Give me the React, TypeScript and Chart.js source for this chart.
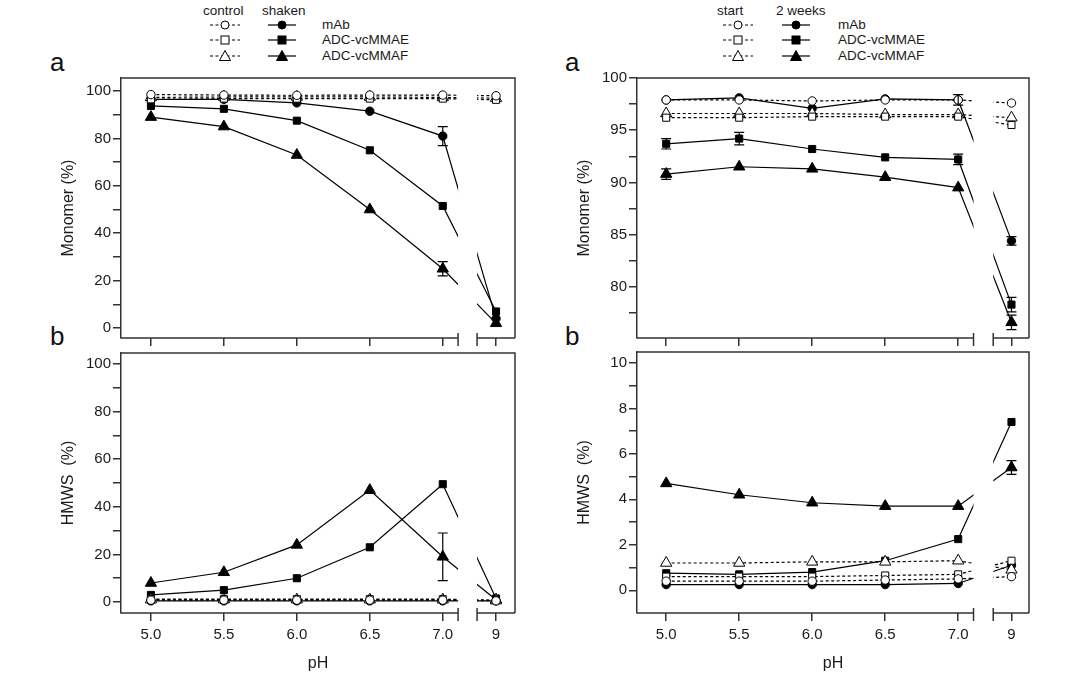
import React, { useEffect, useRef } from "react";
import { Chart, registerables } from "chart.js";
Chart.register(...registerables);

const PH = [5.0, 5.5, 6.0, 6.5, 7.0, 9];
const X_LABELS = ["5.0", "5.5", "6.0", "6.5", "7.0", "9"];
const SERIES = ["mAb", "ADC-vcMMAE", "ADC-vcMMAF"];

// Left a: Monomer, control vs shaken
const LA_CTRL_MAB = [98.5, 98.3, 98.2, 98.3, 98.3, 98.0];
const LA_CTRL_MMAE = [96.5, 96.8, 96.8, 96.8, 96.8, 96.3];
const LA_CTRL_MMAF = [97.3, 97.5, 97.5, 97.5, 97.3, 97.0];
const LA_SH_MAB = [96.5, 96.5, 95.0, 91.5, 81.0, 4.0];
const LA_SH_MMAE = [93.7, 92.5, 87.5, 75.0, 51.5, 7.0];
const LA_SH_MMAF = [89.0, 85.0, 73.0, 50.0, 25.0, 2.0];
const LA_SH_MAB_ERR = [0, 0, 0, 0, 4, 0];
const LA_SH_MMAF_ERR = [0, 0, 0, 0, 3, 0];

// Left b: HMWS, control vs shaken
const LB_CTRL_MAB = [0.8, 0.8, 0.8, 0.8, 0.8, 0.5];
const LB_CTRL_MMAE = [1.2, 1.2, 1.2, 1.2, 1.2, 0.8];
const LB_CTRL_MMAF = [1.0, 1.0, 1.0, 1.0, 1.0, 0.6];
const LB_SH_MAB = [0.5, 0.5, 0.5, 0.5, 0.5, 0.5];
const LB_SH_MMAE = [3.0, 5.0, 10.0, 23.0, 49.5, 1.5];
const LB_SH_MMAF = [8.0, 12.5, 24.0, 47.0, 19.0, 1.0];
const LB_SH_MMAF_ERR = [0, 0, 0, 0, 10, 0];

// Right a: Monomer, start vs 2 weeks
const RA_ST_MAB = [97.9, 97.9, 97.8, 97.9, 97.9, 97.6];
const RA_ST_MMAE = [96.2, 96.2, 96.3, 96.3, 96.3, 95.5];
const RA_ST_MMAF = [96.6, 96.6, 96.6, 96.5, 96.5, 96.2];
const RA_2W_MAB = [97.9, 98.1, 97.1, 98.0, 97.9, 84.4];
const RA_2W_MMAE = [93.7, 94.2, 93.2, 92.4, 92.2, 78.3];
const RA_2W_MMAF = [90.8, 91.5, 91.3, 90.5, 89.5, 76.6];
const RA_2W_MAB_ERR = [0, 0, 0, 0, 0.5, 0.4];
const RA_2W_MMAE_ERR = [0.5, 0.6, 0, 0, 0.5, 0.7];
const RA_2W_MMAF_ERR = [0.5, 0, 0, 0, 0, 0.7];

// Right b: HMWS, start vs 2 weeks
const RB_ST_MAB = [0.4, 0.4, 0.4, 0.45, 0.5, 0.6];
const RB_ST_MMAE = [0.6, 0.6, 0.6, 0.65, 0.7, 1.3];
const RB_ST_MMAF = [1.2, 1.2, 1.25, 1.25, 1.3, 0.9];
const RB_2W_MAB = [0.25, 0.25, 0.25, 0.25, 0.3, 1.1];
const RB_2W_MMAE = [0.75, 0.7, 0.8, 1.3, 2.25, 7.4];
const RB_2W_MMAF = [4.7, 4.2, 3.85, 3.7, 3.7, 5.4];
const RB_2W_MMAF_ERR = [0, 0, 0, 0, 0, 0.3];

const Y_TICKS_LA = [0, 10, 20, 30, 40, 50, 60, 70, 80, 90, 100];
const Y_LABELS_LA = [0, 20, 40, 60, 80, 100];
const Y_TICKS_RA = [77.5, 80, 82.5, 85, 87.5, 90, 92.5, 95, 97.5, 100];
const Y_LABELS_RA = [80, 85, 90, 95, 100];
const Y_TICKS_RB = [0, 1, 2, 3, 4, 5, 6, 7, 8, 9, 10];
const Y_LABELS_RB = [0, 2, 4, 6, 8, 10];

const FONT = "'Liberation Sans', Arial, sans-serif";
const STYLES = ["circle", "rect", "triangle"];
const RADII = [4.2, 5, 6.5];

const xPos = (p: number) => (p <= 7 ? (p - 5) / 0.5 : 4.73);

function makeSets(ctrl: number[][], treated: number[][], errs: (number[] | null)[]) {
  const sets: any[] = [];
  ctrl.forEach((vals, i) => {
    sets.push({
      label: SERIES[i] + " ctrl",
      data: vals.map((v, j) => ({ x: xPos(PH[j]), y: v })),
      borderColor: "#000",
      borderWidth: 1.2,
      borderDash: [3, 2.5],
      pointStyle: STYLES[i],
      pointRadius: RADII[i],
      pointBackgroundColor: "#fff",
      pointBorderColor: "#000",
      pointBorderWidth: 1,
      errors: null,
    });
  });
  treated.forEach((vals, i) => {
    sets.push({
      label: SERIES[i],
      data: vals.map((v, j) => ({ x: xPos(PH[j]), y: v })),
      borderColor: "#000",
      borderWidth: 1.2,
      pointStyle: STYLES[i],
      pointRadius: RADII[i],
      pointBackgroundColor: "#000",
      pointBorderColor: "#000",
      pointBorderWidth: 1,
      errors: errs[i],
    });
  });
  return sets;
}

type PanelProps = {
  box: [number, number, number, number];
  yMin: number; yMax: number;
  yTicks: number[]; yLabels: number[];
  xMin: number; xMax: number; gap: [number, number];
  showX: boolean; yTitle: string;
  sets: any[];
};

const panelPlugin = {
  id: "panelDeco",
  afterDatasetsDraw(chart: any, _a: any, opts: any) {
    const { ctx, chartArea: ca, scales } = chart;
    const xs = scales.x, ys = scales.y;
    chart.data.datasets.forEach((ds: any) => {
      if (!ds.errors) return;
      ctx.save();
      ctx.strokeStyle = "#000";
      ctx.lineWidth = 1.2;
      ds.data.forEach((pt: any, j: number) => {
        const e = ds.errors[j];
        if (!e) return;
        const px = xs.getPixelForValue(pt.x);
        const y1 = ys.getPixelForValue(pt.y - e), y2 = ys.getPixelForValue(pt.y + e);
        ctx.beginPath();
        ctx.moveTo(px, y1); ctx.lineTo(px, y2);
        ctx.moveTo(px - 5, y1); ctx.lineTo(px + 5, y1);
        ctx.moveTo(px - 5, y2); ctx.lineTo(px + 5, y2);
        ctx.stroke();
      });
      ctx.restore();
    });
    const g1 = xs.getPixelForValue(opts.gap[0]);
    const g2 = xs.getPixelForValue(opts.gap[1]);
    ctx.save();
    ctx.fillStyle = "#fff";
    ctx.fillRect(g1, ca.top + 1, g2 - g1, ca.bottom - ca.top - 1);
    ctx.strokeStyle = "#333";
    ctx.lineWidth = 1.5;
    ctx.beginPath();
    ctx.moveTo(ca.left, ca.top); ctx.lineTo(ca.right, ca.top); ctx.lineTo(ca.right, ca.bottom);
    ctx.moveTo(ca.left, ca.bottom); ctx.lineTo(g1, ca.bottom);
    ctx.moveTo(g1, ca.bottom - 5); ctx.lineTo(g1, ca.bottom + 8);
    ctx.moveTo(g2, ca.bottom - 5); ctx.lineTo(g2, ca.bottom + 8);
    ctx.moveTo(g2, ca.bottom); ctx.lineTo(ca.right, ca.bottom);
    ctx.stroke();
    ctx.restore();
  },
};

function Panel(p: PanelProps) {
  const ref = useRef<HTMLCanvasElement>(null);
  const [l, t, r, b] = p.box;
  const padL = 70, padT = 10, padR = 10;
  const xH = p.showX ? 60 : 12;
  const w = r - l + padL + padR;
  const h = b - t + padT + xH;
  useEffect(() => {
    const chart = new Chart(ref.current!, {
      type: "line",
      data: { datasets: p.sets },
      options: {
        animation: false,
        responsive: false,
        events: [],
        layout: { padding: { left: 0, top: padT, right: padR, bottom: 0 } },
        plugins: { legend: { display: false }, tooltip: { enabled: false }, panelDeco: { gap: p.gap } } as any,
        scales: {
          x: {
            type: "linear", min: p.xMin, max: p.xMax,
            afterBuildTicks: (s: any) => { s.ticks = PH.map((v) => ({ value: xPos(v) })); },
            afterFit: (s: any) => { s.height = xH; },
            border: { display: false },
            grid: { drawOnChartArea: false, drawTicks: true, tickLength: 8, color: "#333", lineWidth: 1.5 },
            ticks: {
              display: p.showX, padding: 5, color: "#1a1a1a", font: { family: FONT, size: 15 },
              callback: (_v: any, i: number) => X_LABELS[i], maxRotation: 0, autoSkip: false,
            },
            title: { display: p.showX, text: "pH", color: "#1a1a1a", font: { family: FONT, size: 16 }, padding: 0 },
          },
          y: {
            type: "linear", min: p.yMin, max: p.yMax,
            afterBuildTicks: (s: any) => { s.ticks = p.yTicks.map((v) => ({ value: v })); },
            afterFit: (s: any) => { s.width = padL; },
            border: { display: true, color: "#333", width: 1.5 },
            grid: { drawOnChartArea: false, drawTicks: true, tickLength: 8, color: "#333", lineWidth: 1.5 },
            ticks: {
              padding: 2, color: "#1a1a1a", font: { family: FONT, size: 15 }, autoSkip: false,
              callback: (v: any) => (p.yLabels.includes(v) ? String(v) : ""),
            },
            title: { display: true, text: p.yTitle, color: "#1a1a1a", font: { family: FONT, size: 16 }, padding: 8 },
          },
        },
      } as any,
      plugins: [panelPlugin],
    });
    return () => chart.destroy();
  }, []);
  return (
    <canvas ref={ref} width={w} height={h}
      style={{ position: "absolute", left: l - padL, top: t - padT, width: w, height: h }} />
  );
}

function Sym({ style, filled, dashed, left, top }: any) {
  const fill = filled ? "#000" : "#fff";
  let m: any;
  if (style === "circle") m = <circle cx={18} cy={7} r={4} fill={fill} stroke="#000" strokeWidth={1} />;
  else if (style === "rect") m = <rect x={14} y={3} width={8} height={8} fill={fill} stroke="#000" strokeWidth={1} />;
  else m = <polygon points="18,1.5 23.5,11.5 12.5,11.5" fill={fill} stroke="#000" strokeWidth={1} />;
  return (
    <svg width={36} height={14} style={{ position: "absolute", left, top }}>
      <line x1={dashed ? 3 : 4} y1={7} x2={dashed ? 33 : 32} y2={7} stroke="#000" strokeWidth={1.2}
        strokeDasharray={dashed ? "3 2.5" : undefined} />
      {m}
    </svg>
  );
}

function Legend({ h1, h2, x1, x2, xh1, xh2, xl }: any) {
  const txt: any = { position: "absolute", fontFamily: FONT, fontSize: 13.5, color: "#1a1a1a", lineHeight: "14px", whiteSpace: "nowrap" };
  const rows = [25, 40, 56];
  return (
    <>
      <div style={{ ...txt, left: xh1, top: 4 }}>{h1}</div>
      <div style={{ ...txt, left: xh2, top: 4 }}>{h2}</div>
      {SERIES.map((s, i) => (
        <React.Fragment key={s}>
          <Sym style={STYLES[i]} filled={false} dashed left={x1 - 18} top={rows[i] - 7} />
          <Sym style={STYLES[i]} filled dashed={false} left={x2 - 18} top={rows[i] - 7} />
          <div style={{ ...txt, left: xl, top: rows[i] - 7 }}>{s}</div>
        </React.Fragment>
      ))}
    </>
  );
}

export default function App() {
  const letter: any = { position: "absolute", fontFamily: FONT, fontSize: 26, color: "#111", lineHeight: "28px" };
  return (
    <div style={{ position: "absolute", left: 0, top: 0, width: 1080, height: 690, background: "#fff", overflow: "hidden" }}>
      <Legend h1="control" h2="shaken" x1={225} x2={282} xh1={203} xh2={262} xl={322} />
      <Legend h1="start" h2="2 weeks" x1={738} x2={796} xh1={717} xh2={776} xl={838} />
      <div style={{ ...letter, left: 50, top: 48 }}>a</div>
      <div style={{ ...letter, left: 50, top: 322 }}>b</div>
      <div style={{ ...letter, left: 565, top: 48 }}>a</div>
      <div style={{ ...letter, left: 565, top: 322 }}>b</div>
      <Panel box={[121, 77, 515, 338]} yMin={-4.2} yMax={105.5} yTicks={Y_TICKS_LA} yLabels={Y_LABELS_LA}
        xMin={-0.41} xMax={4.99} gap={[4.21, 4.47]} showX={false} yTitle="Monomer (%)"
        sets={makeSets([LA_CTRL_MAB, LA_CTRL_MMAE, LA_CTRL_MMAF], [LA_SH_MAB, LA_SH_MMAE, LA_SH_MMAF], [LA_SH_MAB_ERR, null, LA_SH_MMAF_ERR])} />
      <Panel box={[121, 352, 515, 613]} yMin={-4.6} yMax={104.6} yTicks={Y_TICKS_LA} yLabels={Y_LABELS_LA}
        xMin={-0.41} xMax={4.99} gap={[4.21, 4.47]} showX={true} yTitle="HMWS  (%)"
        sets={makeSets([LB_CTRL_MAB, LB_CTRL_MMAE, LB_CTRL_MMAF], [LB_SH_MAB, LB_SH_MMAE, LB_SH_MMAF], [null, null, LB_SH_MMAF_ERR])} />
      <Panel box={[637, 77, 1029, 338]} yMin={75.1} yMax={100} yTicks={Y_TICKS_RA} yLabels={Y_LABELS_RA}
        xMin={-0.4} xMax={4.97} gap={[4.21, 4.48]} showX={false} yTitle="Monomer (%)"
        sets={makeSets([RA_ST_MAB, RA_ST_MMAE, RA_ST_MMAF], [RA_2W_MAB, RA_2W_MMAE, RA_2W_MMAF], [RA_2W_MAB_ERR, RA_2W_MMAE_ERR, RA_2W_MMAF_ERR])} />
      <Panel box={[637, 351, 1029, 613]} yMin={-1} yMax={10.48} yTicks={Y_TICKS_RB} yLabels={Y_LABELS_RB}
        xMin={-0.4} xMax={4.97} gap={[4.21, 4.48]} showX={true} yTitle="HMWS  (%)"
        sets={makeSets([RB_ST_MAB, RB_ST_MMAE, RB_ST_MMAF], [RB_2W_MAB, RB_2W_MMAE, RB_2W_MMAF], [null, null, RB_2W_MMAF_ERR])} />
    </div>
  );
}
